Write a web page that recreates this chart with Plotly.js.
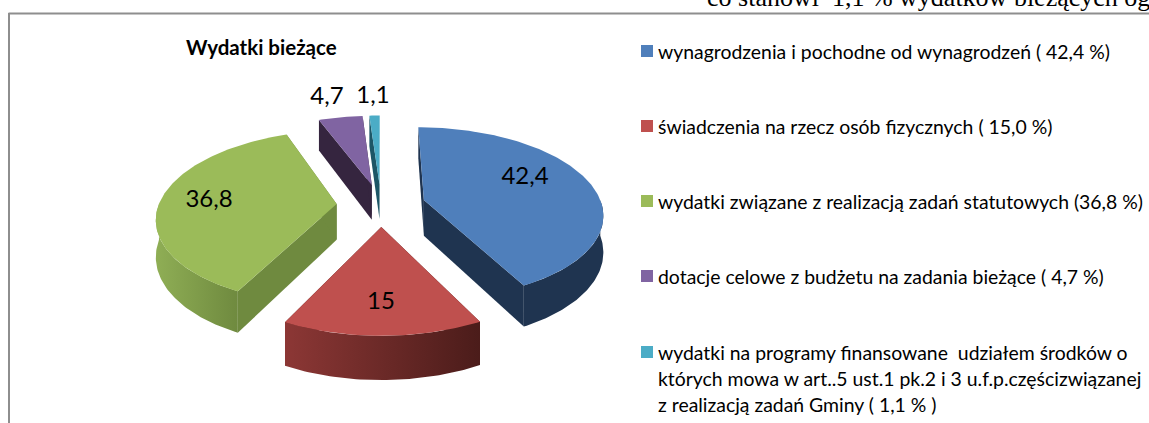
<!DOCTYPE html>
<html><head><meta charset="utf-8">
<script src="https://cdn.plot.ly/plotly-3.0.1.min.js"></script>
<style>html,body{margin:0;padding:0;background:#fff;overflow:hidden}</style>
</head><body><div id="chart" style="width:1149px;height:423px"></div>
<script>
// --- data ---
const chartTitle = "Wydatki bieżące";
const categories = ["wynagrodzenia","świadczenia","wydatki statutowe","dotacje celowe","wydatki na programy"];
const values = [42.4, 15, 36.8, 4.7, 1.1];
const legendLines = [
  ["wynagrodzenia i pochodne od wynagrodzeń ( 42,4 %)"],
  ["świadczenia na rzecz osób fizycznych ( 15,0 %)"],
  ["wydatki związane z realizacją zadań statutowych (36,8 %)"],
  ["dotacje celowe z budżetu na zadania bieżące ( 4,7 %)"],
  ["wydatki na programy finansowane  udziałem środków o","których mowa w art..5 ust.1 pk.2 i 3 u.f.p.częścizwiązanej","z realizacją zadań Gminy ( 1,1 % )"]
];
const overflowText = "co stanowi  1,1 % wydatków bieżących og";

// --- styles and layout ---
const topColors = ["#4f7fbb","#bf504e","#9bbb59","#8064a2","#4bacc6"];
const sideColors = ["#1f3450","#4f1d1b","#6f8a3f","#35253f","#1d5666"];
const wallGrad = [["#1f3450","#1f3450"],["#8c3735","#4b1c1a"],["#8fae55","#6f8a3f"],["#35253f","#35253f"],["#1d5666","#1d5666"]];
const labelAt = [[525,178],[381,303],[209,201],[327,98],[373,97]];
const legendRowY = [51,126,201,276,352];
const F = "Lato, 'Noto Sans', sans-serif";
const LABEL_SIZE = 24, LEGEND_SIZE = 19.4;

// pie projection
const cx=381, cy=205, A=178, B=85, p=0.15, e=0.25, depth=36;
const rad=d=>d*Math.PI/180;
function proj(X,Y,z){const s=1/(1-p*Y);return [cx+A*X*s, cy+B*Y*s+(z?depth*s:0)];}
const total=values.reduce((a,b)=>a+b,0);
const traces=[];
function poly(pts,opt){traces.push(Object.assign({type:'scatter',mode:'lines',x:pts.map(q=>q[0]),y:pts.map(q=>q[1]),fill:'toself',line:{width:0},hoverinfo:'skip',showlegend:false},opt));}

const slices=[];let acc=0;
values.forEach((v,i)=>{const a0=acc/total*360;acc+=v;const a1=acc/total*360;slices.push({i,a0,a1,mid:(a0+a1)/2});});
function worldAt(s,a,r){return [r*Math.sin(rad(a))+e*Math.sin(rad(s.mid)), -r*Math.cos(rad(a))-e*Math.cos(rad(s.mid))];}
function arc(s,a0,a1,z){const pts=[];const n=Math.max(2,Math.ceil(Math.abs(a1-a0)));for(let k=0;k<=n;k++){const a=a0+(a1-a0)*k/n;const w=worldAt(s,a,1);pts.push(proj(w[0],w[1],z));}return pts;}

[3,4,0,2,1].forEach(idx=>{
  const s=slices[idx], i=s.i;
  const ap=worldAt(s,0,0), apT=proj(ap[0],ap[1],false), apB=proj(ap[0],ap[1],true);
  [s.a0,s.a1].forEach(a=>{
    const w=worldAt(s,a,1), rT=proj(w[0],w[1],false), rB=proj(w[0],w[1],true);
    poly([apT,rT,rB,apB,apT],{fillcolor:sideColors[i]});
  });
  const w0=Math.max(s.a0,90), w1=Math.min(s.a1,270);
  if(w1>w0){
    const t=arc(s,w0,w1,false), b=arc(s,w0,w1,true).reverse();
    const pts=t.concat(b); pts.push(t[0]);
    poly(pts,{fillgradient:{type:'horizontal',colorscale:[[0,wallGrad[i][0]],[1,wallGrad[i][1]]]}});
  }
  const top=[apT].concat(arc(s,s.a0,s.a1,false)); top.push(apT);
  poly(top,{fillcolor:topColors[i]});
});

// value labels
traces.push({type:'scatter',mode:'text',x:labelAt.map(q=>q[0]),y:labelAt.map(q=>q[1]),
  text:values.map(v=>String(v).replace('.',',')),textposition:'middle center',
  textfont:{family:F,size:LABEL_SIZE,color:'#000'},hoverinfo:'skip',showlegend:false,cliponaxis:false});
// legend swatches
traces.push({type:'scatter',mode:'markers',x:values.map(()=>647),y:legendRowY,
  marker:{symbol:'square',size:12,color:topColors,line:{width:0}},hoverinfo:'skip',showlegend:false,text:categories});

const annotations=[];
legendLines.forEach((lines,i)=>lines.forEach((t,j)=>annotations.push({
  xref:'x',yref:'y',x:658,y:legendRowY[i]+j*26,xanchor:'left',yanchor:'middle',align:'left',showarrow:false,
  text:t,font:{family:F,size:LEGEND_SIZE,color:'#000'},borderpad:0,xshift:-1})));
annotations.push({xref:'paper',yref:'paper',x:706/1149,y:1-(-2/423),xanchor:'left',yanchor:'middle',showarrow:false,
  text:overflowText,font:{family:"'Liberation Serif',serif",size:26,color:'#000'},borderpad:0});

const layout={width:1149,height:423,margin:{l:0,r:0,t:0,b:0,pad:0},paper_bgcolor:'#fff',plot_bgcolor:'#fff',showlegend:false,
  title:{text:chartTitle,x:186/1149,xanchor:'left',xref:'paper',y:1-48/423,yref:'paper',yanchor:'middle',font:{family:F,size:20.5,weight:700,color:'#000'}},
  xaxis:{range:[0,1149],visible:false,fixedrange:true},
  yaxis:{range:[423,0],visible:false,fixedrange:true},
  shapes:[
    {type:'line',xref:'x',yref:'y',x0:8.5,x1:1149,y0:13.5,y1:13.5,line:{color:'#8e8e8e',width:2}},
    {type:'line',xref:'x',yref:'y',x0:9,x1:9,y0:13,y1:423,line:{color:'#8e8e8e',width:2}}
  ],
  annotations};
Plotly.newPlot('chart',traces,layout,{displayModeBar:false,staticPlot:true});
</script></body></html>
